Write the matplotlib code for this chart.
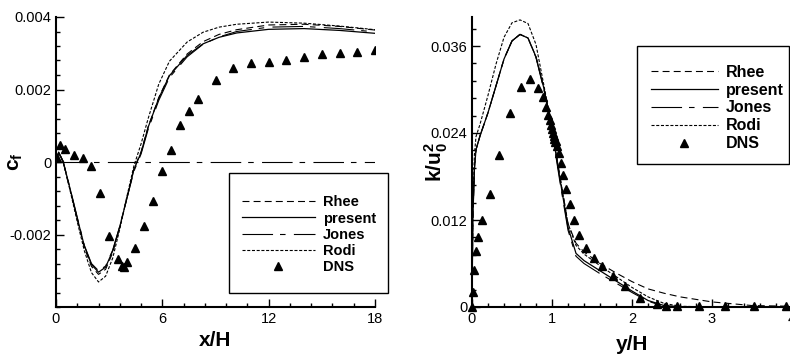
import matplotlib
matplotlib.use("Agg")
import matplotlib.pyplot as plt
from matplotlib.ticker import MultipleLocator, FixedLocator
from matplotlib.patches import Rectangle
import numpy as np

plt.rcParams['font.family'] = ['Liberation Sans', 'DejaVu Sans']
plt.rcParams['mathtext.fontset'] = 'custom'
plt.rcParams['mathtext.rm'] = 'Liberation Sans'
plt.rcParams['mathtext.bf'] = 'Liberation Sans:bold'
plt.rcParams['lines.scale_dashes'] = False

### left panel : skin friction c_f along x/H
x_cf = [0, 0.15, 0.4, 0.8, 1.2, 1.6, 2.0, 2.4, 2.8, 3.2, 3.6, 4.0, 4.4, 4.8,
        5.2, 5.8, 6.4, 7.4, 8.3, 9.2, 10.2, 12, 14, 16, 18]
cf_rhee = [0.00005, 0.00026, 0.00001, -0.00077, -0.00158, -0.00236, -0.00288,
           -0.0031, -0.00296, -0.0025, -0.0018, -0.001, -0.00018, 0.00028,
           0.00097, 0.00178, 0.0024, 0.00298, 0.00332, 0.00352, 0.00365,
           0.00378, 0.0038, 0.00374, 0.00364]
cf_present = [0.00005, 0.00027, 0.00002, -0.00075, -0.00155, -0.00232, -0.00283,
              -0.00304, -0.0029, -0.00245, -0.00178, -0.001, -0.0002, 0.00026,
              0.00096, 0.00176, 0.00238, 0.00294, 0.00326, 0.00344, 0.00356,
              0.00366, 0.00368, 0.00363, 0.00355]
cf_jones = [0.00005, 0.00027, 0.00002, -0.00074, -0.00153, -0.0023, -0.0028,
            -0.003, -0.00287, -0.00243, -0.00177, -0.001, -0.00025, 0.00022,
            0.0009, 0.0017, 0.00233, 0.0029, 0.00325, 0.00345, 0.0036,
            0.00372, 0.00374, 0.00368, 0.00359]
cf_rodi = [0.00005, 0.00025, 0.0, -0.0008, -0.00165, -0.00245, -0.00305,
           -0.00331, -0.00315, -0.00265, -0.00185, -0.00095, -0.0001, 0.0005,
           0.0012, 0.00215, 0.00278, 0.00331, 0.00358, 0.00372, 0.0038,
           0.00386, 0.00383, 0.00375, 0.00365]
x_cf_dns = [0.03, 0.25, 0.51, 1.0, 1.5, 1.97, 2.48, 2.99, 3.48, 3.74, 3.84, 3.99,
            4.47, 4.97, 5.47, 5.98, 6.49, 7.0, 7.49, 8.0, 9.0, 10.0, 11.0, 12.0,
            13.0, 14.0, 15.0, 16.0, 17.0, 18.0]
cf_dns = [0.00012, 0.00048, 0.00035, 0.0002, 0.00012, -0.0001, -0.00086, -0.00203,
          -0.00268, -0.00286, -0.0029, -0.00275, -0.00237, -0.00177, -0.00108,
          -0.00024, 0.00034, 0.00102, 0.0014, 0.00174, 0.00226, 0.00258, 0.00272,
          0.00276, 0.00282, 0.0029, 0.00298, 0.00302, 0.00304, 0.00309]

### right panel : k/u0^2 profile along y/H
y_k = [0, 0.01, 0.03, 0.05, 0.1, 0.2, 0.3, 0.4, 0.5, 0.6, 0.7, 0.8, 0.9, 1.0,
       1.1, 1.2, 1.3, 1.4, 1.6, 1.8, 2.0, 2.2, 2.4, 2.6, 3.0, 3.5, 4.0]
k_rhee = [0, 0.012, 0.019, 0.0217, 0.0236, 0.0268, 0.0305, 0.0342, 0.0367,
          0.0376, 0.0371, 0.0345, 0.0302, 0.0247, 0.018, 0.0115, 0.0088, 0.0076,
          0.006, 0.0047, 0.0035, 0.0025, 0.0019, 0.0014, 0.0007, 0.0002, 0.0001]
k_present = [0, 0.012, 0.019, 0.0217, 0.0236, 0.0268, 0.0305, 0.0342, 0.0367,
             0.0376, 0.0371, 0.0345, 0.0301, 0.0245, 0.0176, 0.011, 0.0074, 0.0064,
             0.005, 0.0036, 0.0022, 0.0009, 0.0002, 0.00005, 0, 0, 0]
k_jones = [0, 0.012, 0.019, 0.0217, 0.0236, 0.0268, 0.0305, 0.0342, 0.0367,
           0.0376, 0.0371, 0.0344, 0.0299, 0.0242, 0.0172, 0.0106, 0.007, 0.006,
           0.0046, 0.0033, 0.002, 0.0008, 0.0001, 0, 0, 0, 0]
k_rodi = [0, 0.013, 0.021, 0.0235, 0.0252, 0.0292, 0.0335, 0.0372, 0.0392,
          0.0396, 0.0391, 0.0362, 0.0305, 0.0247, 0.0179, 0.0115, 0.0085, 0.0073,
          0.0057, 0.0042, 0.0027, 0.0014, 0.0005, 0.0001, 0, 0, 0]
y_k_dns = [0.0, 0.017, 0.025, 0.046, 0.08, 0.13, 0.225, 0.34, 0.47, 0.61, 0.725,
           0.82, 0.89, 0.93, 0.955, 0.97, 0.985, 1.0, 1.01, 1.02, 1.03, 1.04,
           1.05, 1.06, 1.09, 1.11, 1.14, 1.175, 1.225, 1.275, 1.34, 1.425, 1.52,
           1.62, 1.76, 1.91, 2.1, 2.31, 2.43, 2.56, 2.84, 3.16, 3.53, 3.92]
k_dns = [0.0, 0.0021, 0.0051, 0.0077, 0.0096, 0.012, 0.0156, 0.0209, 0.0268, 0.0304,
         0.0315, 0.0302, 0.0289, 0.0276, 0.0265, 0.0258, 0.0251, 0.0245, 0.0240,
         0.0236, 0.0232, 0.0228, 0.0229, 0.0222, 0.0212, 0.0199, 0.0182, 0.0163,
         0.0142, 0.012, 0.0099, 0.0081, 0.0067, 0.0056, 0.0043, 0.0029, 0.0012,
         0.0004, 0.0002, 0.0002, 0.0001, 0.0001, 0.0001, 0.0001]

rhee_st = dict(color='black', lw=0.8, dashes=(5, 3))
present_st = dict(color='black', lw=0.9, ls='-')
jones_st = dict(color='black', lw=0.8, dashes=(22, 5, 4, 6))
rodi_st = dict(color='black', lw=0.8, dashes=(2.2, 1.2))
dns_st = dict(color='black', ls='none', marker='^', ms=5.5)

W, H = 790, 355
fig = plt.figure(figsize=(7.9, 3.55), dpi=100)
ax1 = fig.add_axes([56/W, 48/H, 319/W, 290/H])
ax2 = fig.add_axes([472/W, 48/H, 320/W, 290/H])

# left
ax1.plot([0, 18], [0, 0], label='_nolegend_', **jones_st)
ax1.plot(x_cf, cf_rhee, label='Rhee', **rhee_st)
ax1.plot(x_cf, cf_present, label='present', **present_st)
ax1.plot(x_cf, cf_jones, label='Jones', **jones_st)
ax1.plot(x_cf, cf_rodi, label='Rodi', **rodi_st)
ax1.plot(x_cf_dns, cf_dns, label='DNS', **dns_st)
ax1.set_xlim(0, 18)
ax1.set_ylim(-0.004, 0.004)
ax1.xaxis.set_major_locator(MultipleLocator(6))
ax1.xaxis.set_minor_locator(MultipleLocator(1.2))
ax1.yaxis.set_major_locator(FixedLocator([-0.002, 0, 0.002, 0.004]))
ax1.set_yticklabels(['-0.002', '0', '0.002', '0.004'])
ax1.yaxis.set_minor_locator(MultipleLocator(0.0004))
ax1.set_xlabel('x/H', fontsize=15, fontweight='bold')
ax1.set_ylabel(r'$\mathbf{c_f}$', fontsize=15)
ax1.xaxis.set_label_coords(0.5, -0.083)
ax1.yaxis.set_label_coords(-0.097, 0.5)

# right
ax2.plot(y_k, k_rhee, label='Rhee', **rhee_st)
ax2.plot(y_k, k_present, label='present', **present_st)
ax2.plot(y_k, k_jones, label='Jones', **jones_st)
ax2.plot(y_k, k_rodi, label='Rodi', **rodi_st)
ax2.plot(y_k_dns, k_dns, label='DNS', clip_on=False, **dns_st)
ax2.set_xlim(0, 4)
ax2.set_ylim(0, 0.040)
ax2.xaxis.set_major_locator(MultipleLocator(1))
ax2.xaxis.set_minor_locator(MultipleLocator(0.2))
ax2.yaxis.set_major_locator(FixedLocator([0, 0.012, 0.024, 0.036]))
ax2.set_yticklabels(['0', '0.012', '0.024', '0.036'])
ax2.yaxis.set_minor_locator(MultipleLocator(0.0024))
ax2.set_xlabel('y/H', fontsize=15, fontweight='bold')
ax2.set_ylabel(r'$\mathbf{k/u_0^2}$', fontsize=15)
ax2.xaxis.set_label_coords(0.5, -0.098)
ax2.yaxis.set_label_coords(-0.07, 0.5)

for ax in (ax1, ax2):
    for s in ('top', 'right'):
        ax.spines[s].set_visible(False)
    for s in ('left', 'bottom'):
        ax.spines[s].set_linewidth(1.5)
    ax.tick_params(which='major', direction='in', length=6, width=1.0, labelsize=10.5)
    ax.tick_params(which='minor', direction='in', length=3, width=1.0)

# legends: entries placed by matplotlib, frames drawn as plain boxes
ax1.legend(loc='center', bbox_to_anchor=(309/W, 1 - 234.7/H),
           bbox_transform=fig.transFigure, prop=dict(weight='bold', size=10.5),
           handlelength=5.0, handletextpad=0.55, borderpad=0.2,
           labelspacing=0.15, numpoints=1, frameon=False, borderaxespad=0)
ax2.legend(loc='center', bbox_to_anchor=(717/W, 1 - 108/H),
           bbox_transform=fig.transFigure, prop=dict(weight='bold', size=11.5),
           handlelength=4.2, handletextpad=0.5, borderpad=0.2,
           labelspacing=0.18, numpoints=1, frameon=False, borderaxespad=0)
fig.patches.append(Rectangle((229/W, 1 - 293/H), 159/W, 120/H, fill=False,
                             ec='black', lw=1.0, transform=fig.transFigure))
fig.patches.append(Rectangle((637/W, 1 - 164/H), 152/W, 118/H, fill=False,
                             ec='black', lw=1.0, transform=fig.transFigure))

fig.savefig('out.png', dpi=100)
